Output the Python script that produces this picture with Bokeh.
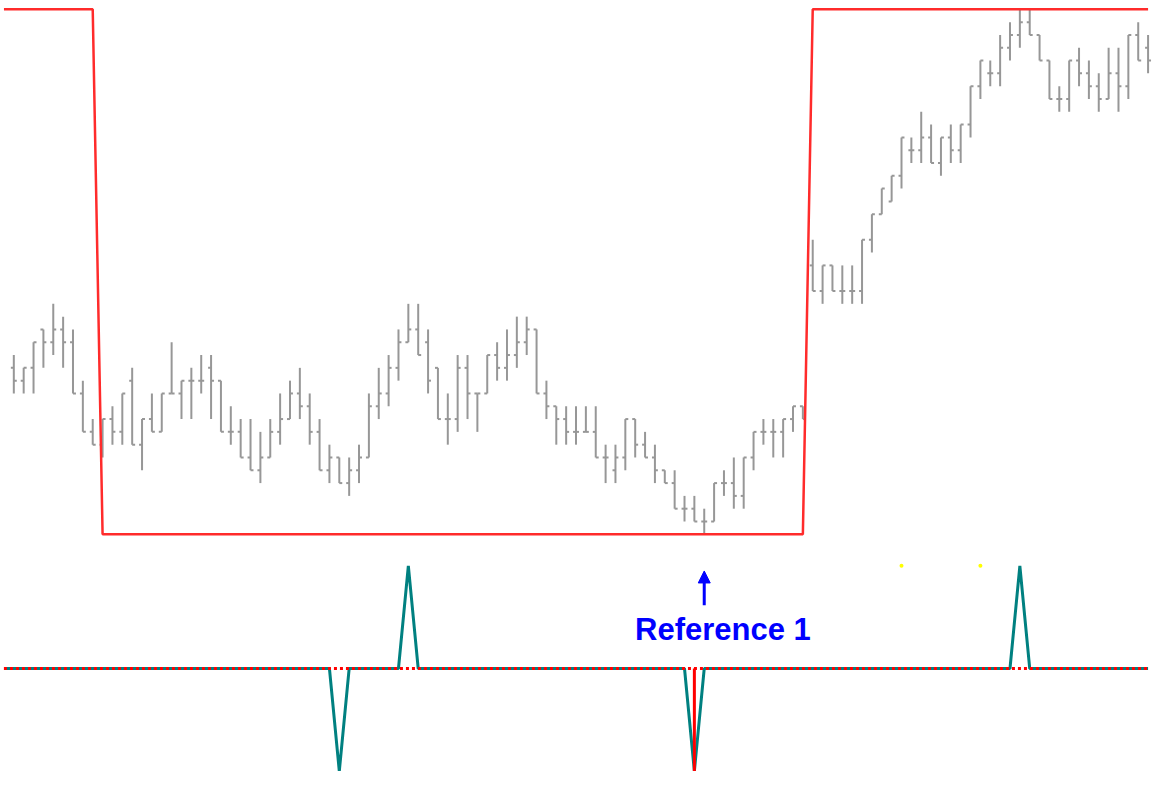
from bokeh.plotting import figure
from bokeh.layouts import column
from bokeh.models import Range1d, Arrow, NormalHead, ColumnDataSource
from bokeh.core.properties import value
from bokeh.embed import file_html
from bokeh.resources import INLINE

# ---------------- data (price in tick levels) ----------------
bar_open = [13, 12, 13, 16, 15, 16, 15, 11, 8, 7, 9, 8, 12, 7, 9, 8, 11, 11, 12, 12,
            13, 12, 8, 8, 6, 5, 6, 8, 9, 11, 10, 8, 5, 6, 4, 5, 6, 10, 11, 13,
            15, 16, 15, 13, 9, 9, 13, 11, 11, 14, 13, 14, 15, 16, 11, 10, 9, 8, 8, 8,
            6, 5, 6, 9, 7, 6, 5, 4, 2, 2, 1, 1, 4, 4, 3, 6, 8, 8, 8, 9,
            10, 21, 19, 21, 19, 19, 19, 23, 25, 26, 28, 30, 30, 31, 29, 31, 30, 32, 35, 36,
            36, 38, 39, 40, 39, 37, 34, 34, 37, 36, 35, 34, 36, 35, 39, 38]
bar_high = [14, 13, 15, 16, 18, 17, 16, 12, 9, 9, 10, 11, 13, 9, 11, 11, 15, 12, 13, 14,
            14, 12, 10, 9, 9, 8, 9, 11, 12, 13, 11, 9, 7, 6, 6, 7, 11, 13, 14, 16,
            18, 18, 16, 13, 11, 14, 14, 11, 14, 15, 16, 17, 17, 16, 12, 10, 10, 10, 10, 10,
            7, 7, 9, 9, 8, 7, 5, 5, 3, 3, 2, 4, 5, 6, 6, 8, 9, 9, 9, 10,
            10, 23, 21, 21, 21, 21, 23, 25, 27, 28, 31, 31, 33, 32, 31, 32, 32, 35, 37, 37,
            39, 40, 41, 41, 39, 37, 35, 37, 38, 37, 36, 38, 38, 39, 40, 39]
bar_low = [11, 11, 11, 13, 14, 13, 11, 8, 7, 6, 7, 7, 7, 5, 8, 8, 11, 9, 9, 11,
           9, 8, 7, 6, 5, 4, 6, 7, 9, 9, 7, 5, 4, 4, 3, 4, 6, 9, 10, 12,
           15, 14, 11, 9, 7, 8, 9, 8, 11, 12, 12, 13, 14, 11, 9, 7, 7, 7, 8, 6,
           4, 4, 5, 6, 6, 4, 4, 2, 1, 1, 0, 1, 3, 2, 2, 5, 7, 6, 6, 8,
           9, 19, 18, 19, 18, 18, 18, 22, 25, 26, 27, 29, 29, 29, 28, 29, 29, 31, 34, 35,
           35, 37, 38, 39, 37, 34, 33, 33, 35, 34, 33, 34, 33, 34, 37, 36]
bar_close = [12, 13, 15, 15, 16, 15, 11, 8, 7, 9, 8, 11, 7, 9, 8, 11, 11, 12, 12, 12,
             12, 8, 8, 6, 5, 6, 8, 9, 11, 10, 8, 5, 6, 4, 5, 6, 10, 11, 13, 15,
             16, 14, 12, 9, 9, 13, 11, 11, 14, 13, 14, 15, 16, 11, 10, 9, 8, 8, 8, 6,
             6, 6, 9, 7, 6, 5, 4, 2, 2, 1, 1, 4, 4, 3, 6, 8, 8, 8, 9, 10,
             9, 19, 21, 19, 19, 19, 23, 25, 27, 28, 31, 30, 31, 29, 31, 30, 32, 35, 37, 36,
             38, 39, 40, 39, 37, 34, 34, 37, 36, 35, 34, 36, 35, 39, 37, 37]

# channel (red step line), one value per bar starting one bar before the first drawn bar
channel = [41] * 10 + [0] * 72 + [41] * 35          # bars -1 .. 115

# lower indicator (teal), bars -1 .. 115
signal_bars = [33, 40, 69, 102]
signal_vals = [-1, 1, -1, 1]
hist_bars = [69]          # red histogram
hist_vals = [-1]
dot_bars = [90, 98]       # yellow markers
dot_vals = [1, 1]
ref_bar = 70
ref_label = "Reference 1"

# ---------------- derived ----------------
n = len(bar_open)
idx = list(range(n))
ind_idx = list(range(-1, n))
signal = [0.0] * len(ind_idx)
for b, v in zip(signal_bars, signal_vals):
    signal[b + 1] = v
zero = [0.0] * len(ind_idx)

W = 1153
xr = Range1d(-1.35, 115.55)
GRAY = "#979797"


def make_fig(h, yr):
    f = figure(width=W, height=h, x_range=xr, y_range=yr,
               output_backend="svg", toolbar_location=None, min_border=0,
               x_axis_type=None, y_axis_type=None)
    f.grid.visible = False
    f.outline_line_color = None
    f.background_fill_color = "white"
    f.border_fill_color = "white"
    return f


p1 = make_fig(549, Range1d(-1.187, 41.69))
src = ColumnDataSource(dict(x=idx, o=bar_open, h=bar_high, l=bar_low, c=bar_close,
                            xl=[i - 0.3 for i in idx], xr=[i + 0.3 for i in idx]))
p1.segment(x0="x", y0="l", x1="x", y1="h", source=src, line_color=GRAY, line_width=2)
p1.segment(x0="xl", y0="o", x1="x", y1="o", source=src, line_color=GRAY, line_width=2)
p1.segment(x0="x", y0="c", x1="xr", y1="c", source=src, line_color=GRAY, line_width=2)
p1.line(ind_idx, channel, line_color="#ff2b2b", line_width=2.5)

p2 = make_fig(222, Range1d(-1.003, 1.159))
p2.line(ind_idx, signal, line_color="#008080", line_width=3)
p2.line(ind_idx, zero, line_color="#ff0000", line_width=3, line_dash="3 3")
p2.segment(x0=hist_bars, y0=[0] * len(hist_bars), x1=hist_bars, y1=hist_vals,
           line_color="#ff0000", line_width=3)
p2.scatter(dot_bars, dot_vals, size=4, color="#ffff00", line_color=None)

p2.add_layout(Arrow(end=NormalHead(size=12, fill_color="#0000ff", line_color="#0000ff"),
                    x_start=ref_bar, y_start=0.616, x_end=ref_bar, y_end=0.95,
                    line_color="#0000ff", line_width=3))
p2.text(x=[ref_bar + 1.9], y=[0.38], text=[ref_label], text_color="#0000ff",
        text_font=value("Liberation Sans"), text_font_style="bold",
        text_font_size="31px", text_align="center", text_baseline="alphabetic")

layout = column(p1, p2, spacing=0)
open("out.html", "w").write(file_html(layout, INLINE, title="Reference chart"))
